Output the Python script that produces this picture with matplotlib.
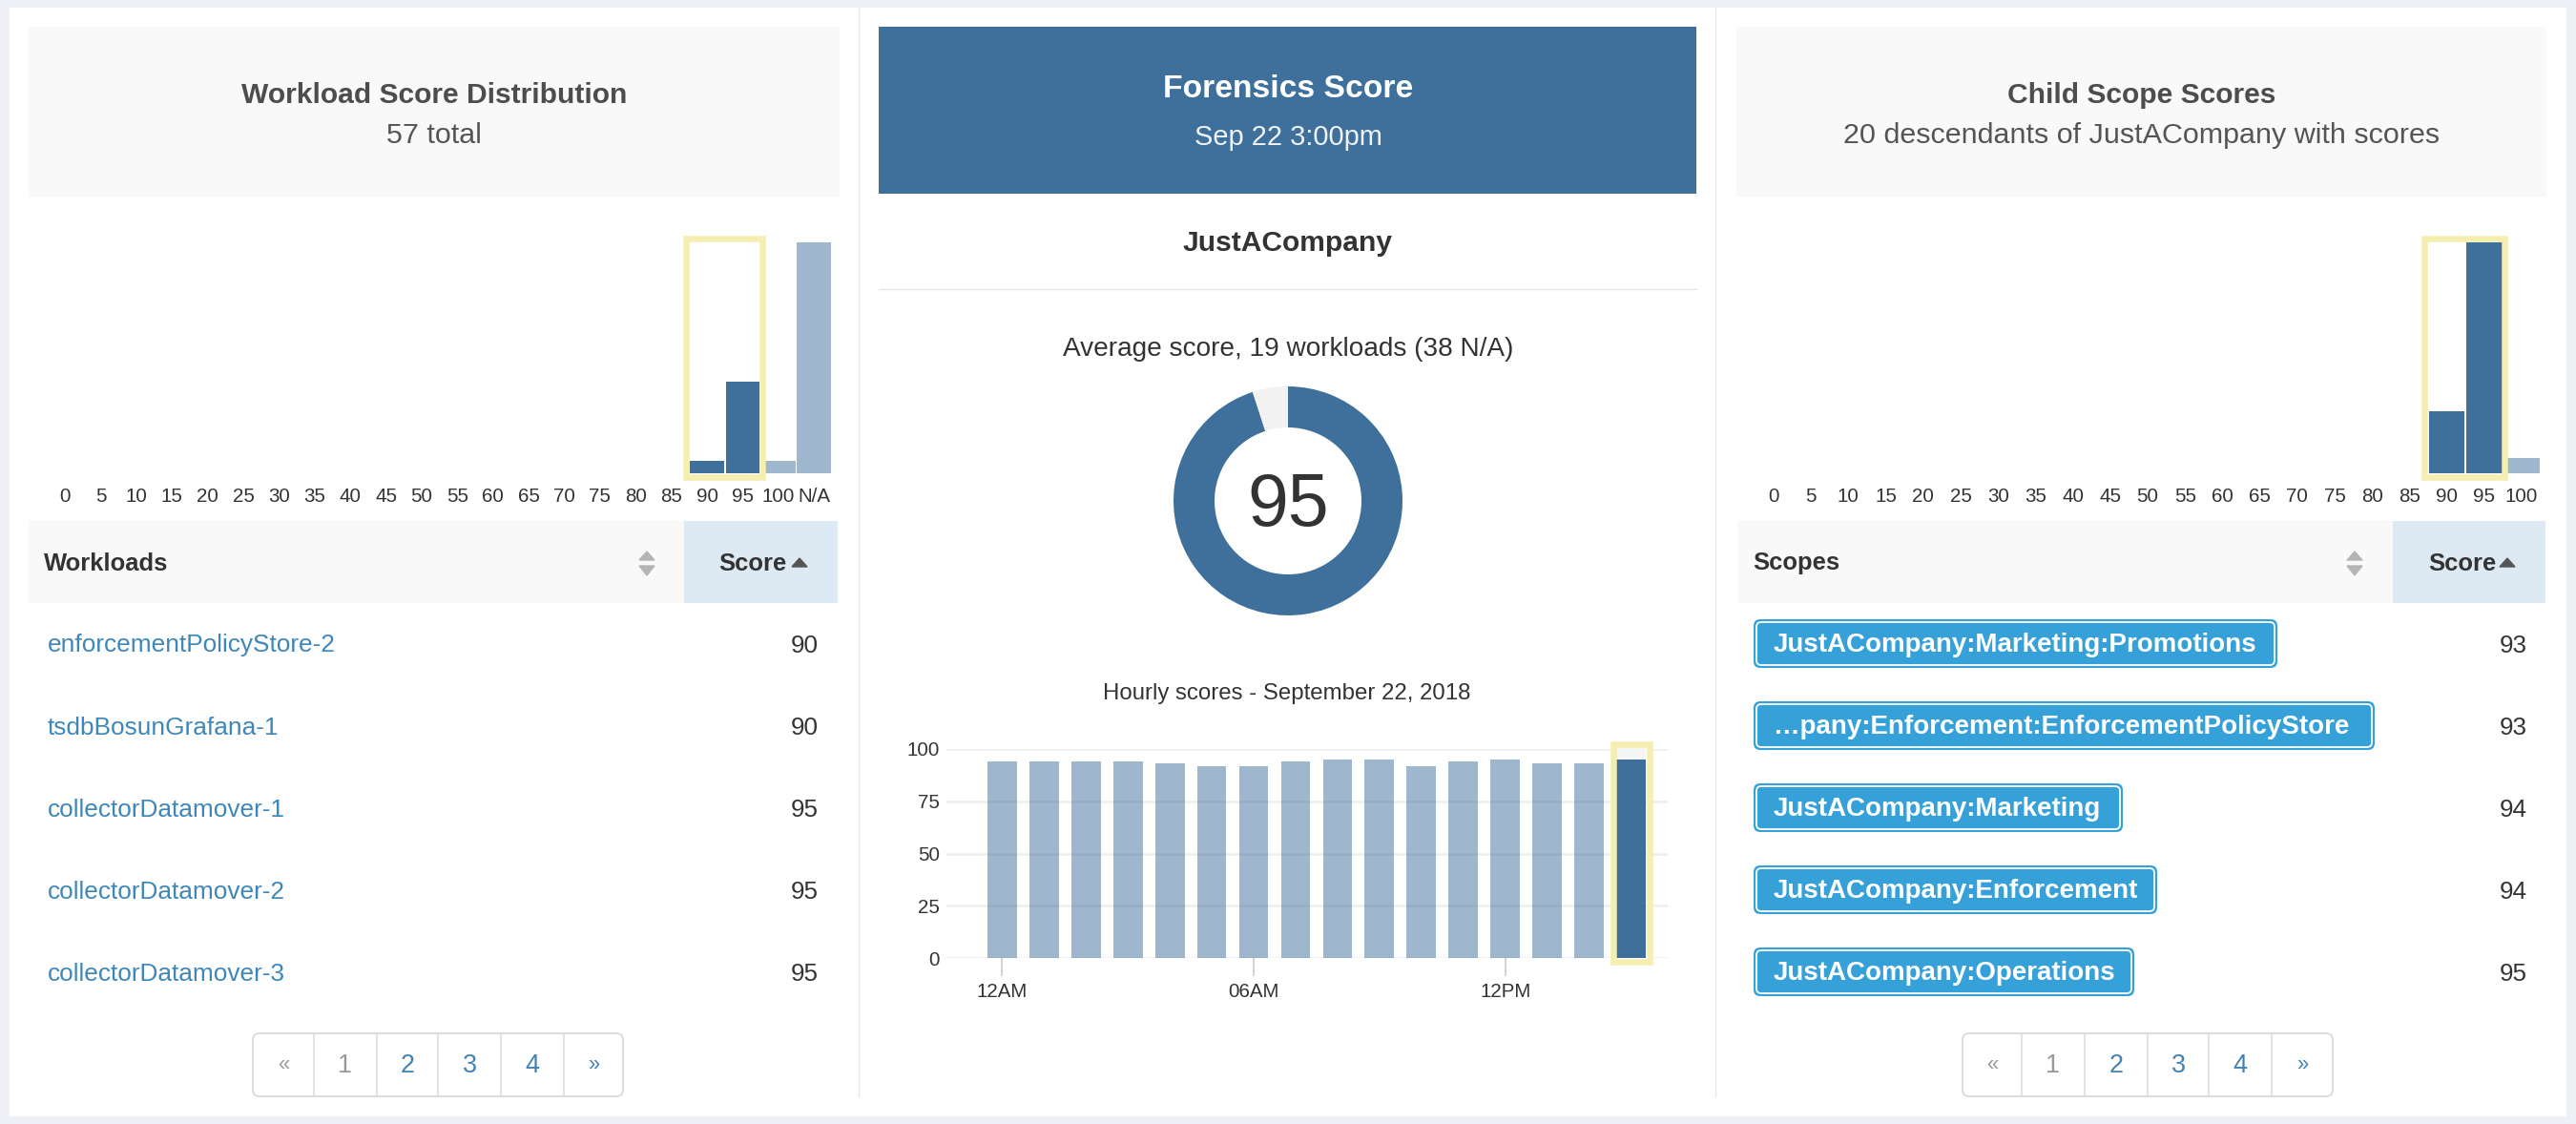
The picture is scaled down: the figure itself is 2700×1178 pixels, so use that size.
import matplotlib
matplotlib.use('Agg')
import matplotlib.pyplot as plt
from matplotlib.patches import Rectangle, FancyBboxPatch, Polygon

W, H = 2700, 1178

# data
workload_bins = ['0', '5', '10', '15', '20', '25', '30', '35', '40', '45', '50',
                 '55', '60', '65', '70', '75', '80', '85', '90', '95', '100', 'N/A']
workload_counts = [0, 0, 0, 0, 0, 0, 0, 0, 0, 0, 0, 0, 0, 0, 0, 0, 0, 0, 2, 15, 2, 38]
scope_bins = workload_bins[:-1]
scope_counts = [0, 0, 0, 0, 0, 0, 0, 0, 0, 0, 0, 0, 0, 0, 0, 0, 0, 0, 4, 15, 1]

workload_names = ['enforcementPolicyStore-2', 'tsdbBosunGrafana-1', 'collectorDatamover-1',
                  'collectorDatamover-2', 'collectorDatamover-3']
workload_scores = [90, 90, 95, 95, 95]
scope_names = ['JustACompany:Marketing:Promotions', '…pany:Enforcement:EnforcementPolicyStore',
               'JustACompany:Marketing', 'JustACompany:Enforcement', 'JustACompany:Operations']
scope_scores = [93, 93, 94, 94, 95]

average_score = 95
hourly_scores = [94, 94, 94, 94, 93, 92, 92, 94, 95, 95, 92, 94, 95, 93, 93, 95]
hourly_ticks = [0, 6, 12]
hourly_tick_labels = ['12AM', '06AM', '12PM']
hourly_yticks = [0, 25, 50, 75, 100]
page_labels = ['«', '1', '2', '3', '4', '»']

DARK = '#3e709b'
LIGHT = '#9fb8cd'
YELLOW = '#f4eeb1'
LINK = '#3f87b9'
TAG = '#36a0d9'

plt.rcParams['font.family'] = ['Liberation Sans', 'DejaVu Sans']


def fs(px):
    # font size given in image pixels
    return px * 0.72


def px_axes(left, top, right, bottom, **kw):
    return fig.add_axes([left / W, 1 - bottom / H, (right - left) / W, (bottom - top) / H], **kw)


def label(x, y, s, px, color='#333333', ha='center', weight='normal'):
    # va center sits a bit high for this font, hence the nudge
    bg.text(x, y + 2.5, s, fontsize=fs(px), color=color, ha=ha, va='center', fontweight=weight, zorder=6)


def box(x0, y0, x1, y1, color, zorder=1):
    bg.add_patch(Rectangle((x0, y0), x1 - x0, y1 - y0, facecolor=color, edgecolor='none', zorder=zorder))


def round_box(x0, y0, x1, y1, r, face, edge='none', lw=0, zorder=2):
    bg.add_patch(FancyBboxPatch((x0 + r, y0 + r), x1 - x0 - 2 * r, y1 - y0 - 2 * r,
                                boxstyle='round,pad=%f,rounding_size=%f' % (r, r),
                                facecolor=face, edgecolor=edge, linewidth=lw, zorder=zorder))


def histogram(left, right, bins, counts, top_count):
    ax = px_axes(left, 254, right, 496)
    ax.patch.set_alpha(0)
    xs = list(range(len(bins)))
    # only the 90 and 95 bins are highlighted
    colors = [DARK if b in ('90', '95') else LIGHT for b in bins]
    ax.bar(xs, counts, width=0.96, color=colors)
    ax.set_xlim(-0.5, len(bins) - 0.5)
    ax.set_ylim(0, top_count)
    ax.set_yticks([])
    ax.set_xticks(xs)
    ax.set_xticklabels(bins, fontsize=fs(20.5), color='#333333')
    ax.tick_params(axis='x', length=0, pad=11)
    for s in ax.spines.values():
        s.set_visible(False)
    return ax


def yellow_frame(x0, y0, x1, y1, t):
    bg2.add_patch(Rectangle((x0 + t / 2, y0 + t / 2), x1 - x0 - t, y1 - y0 - t, fill=False,
                            edgecolor=YELLOW, linewidth=t * 0.72))


def table_head(x0, xsplit, x1, name, icon_x, score_x, tri_x):
    box(x0, 546, xsplit, 632, '#f9f9f9')
    box(xsplit, 546, x1, 632, '#deeaf3')
    label(x0 + 16, 588, name, 25.6, '#333333', ha='left', weight='bold')
    label(score_x, 588, 'Score', 25.6, '#333333', weight='bold')
    bg.add_patch(Polygon([(tri_x - 8, 594), (tri_x + 8, 594), (tri_x, 585)], color='#555555', zorder=5))
    bg.add_patch(Polygon([(icon_x - 8, 587), (icon_x + 8, 587), (icon_x, 578)], color='#b5b5b5', zorder=5))
    bg.add_patch(Polygon([(icon_x - 8, 593), (icon_x + 8, 593), (icon_x, 603)], color='#b5b5b5', zorder=5))


def pager(x0, dividers, x1):
    round_box(x0, 1083, x1, 1149, 7, 'white', '#dddddd', 1.5)
    edges = [x0] + dividers + [x1]
    for i, s in enumerate(page_labels):
        color = '#999999' if i < 2 else '#4583b5'
        if i < 5:
            bg.plot([edges[i + 1]] * 2, [1084, 1148], color='#dddddd', lw=1.2, zorder=3)
        label((edges[i] + edges[i + 1]) / 2, 1114, s, 27 if s.isdigit() else 22, color)


fig = plt.figure(figsize=(W / 100, H / 100), dpi=100, facecolor='#eef0f5')
bg = px_axes(0, 0, W, H)
bg.set_xlim(0, W)
bg.set_ylim(H, 0)
bg.axis('off')

box(10, 8, 2690, 1170, 'white', 0)
bg.plot([900, 900], [8, 1149], color='#e8e8e8', lw=1.0)
bg.plot([1798, 1798], [8, 1149], color='#e8e8e8', lw=1.0)

# headers
box(30, 28, 880, 206, '#f9f9f9')
box(921, 28, 1778, 203, DARK)
box(1820, 28, 2669, 206, '#f9f9f9')
label(455, 98, 'Workload Score Distribution', 30, '#4d4d4d', weight='bold')
label(455, 139.5, '57 total', 30.5, '#555555')
label(1350, 91.5, 'Forensics Score', 33.6, 'white', weight='bold')
label(1350, 141, 'Sep 22 3:00pm', 29, '#eef3f7')
label(2245, 98, 'Child Scope Scores', 30, '#4d4d4d', weight='bold')
label(2245, 139.5, '20 descendants of JustACompany with scores', 30.5, '#555555')

# center column
label(1350, 252.5, 'JustACompany', 30, '#333333', weight='bold')
bg.plot([921, 1778], [303, 303], color='#e5e5e5', lw=1.0)
label(1350, 363.5, 'Average score, 19 workloads (38 N/A)', 28, '#333333')
label(1349, 724, 'Hourly scores - September 22, 2018', 24, '#333333')

# histograms
histogram(49.3, 872, workload_bins, workload_counts, 38)
histogram(1839.4, 2662.6, scope_bins, scope_counts, 15)

# donut
dax = px_axes(1350 - 120, 525 - 120, 1350 + 120, 525 + 120)
dax.pie([average_score, 100 - average_score], startangle=90, counterclock=False, radius=1,
        colors=[DARK, '#f2f2f2'], wedgeprops={'width': 43 / 120})
dax.set_xlim(-1, 1)
dax.set_ylim(-1, 1)
dax.text(0, -0.05, str(average_score), fontsize=fs(77), color='#333333', ha='center', va='center')

# hourly bars
hax = px_axes(992, 785, 1748, 1004.3)
hax.patch.set_alpha(0)
xs = list(range(len(hourly_scores)))
hax.bar(xs[:-1], hourly_scores[:-1], width=0.7, color=DARK, alpha=0.5, zorder=3)
hax.bar(xs[-1], 101.5, width=0.7, color='#f4f6f6', zorder=3, clip_on=False)
hax.bar(xs[-1], hourly_scores[-1], width=0.7, color=DARK, zorder=4)
hax.set_xlim(-1.329, 15.876)
hax.set_ylim(0, 100)
hax.set_yticks(hourly_yticks)
hax.set_yticklabels(hourly_yticks, fontsize=fs(20.5), color='#333333')
hax.set_xticks(hourly_ticks)
hax.set_xticklabels(hourly_tick_labels, fontsize=fs(20.5), color='#333333')
hax.tick_params(axis='y', length=0, pad=5)
hax.tick_params(axis='x', length=13.7, width=1.2, color='#cccccc', pad=5)
hax.grid(axis='y', color='#eeeeee', lw=1.8, zorder=1)
hax.set_axisbelow(True)
for s in hax.spines.values():
    s.set_visible(False)

# left table
table_head(30, 717, 878, 'Workloads', 678, 789, 838)
row_y = [675, 761, 847, 933, 1019]
for y, name, score in zip(row_y, workload_names, workload_scores):
    label(50, y - 1, name, 26.3, LINK, ha='left')
    label(858, y - 1, str(score), 26, '#333333', ha='right')
pager(265, [329, 395, 459, 525, 591], 653)

# right table
table_head(1821, 2508, 2668, 'Scopes', 2468, 2581, 2628)
tag_right = [2387, 2489, 2225, 2261, 2237]
for y, name, score, x1 in zip(row_y, scope_names, scope_scores, tag_right):
    y0, y1 = y - 26, y + 25
    round_box(1838, y0, x1, y1, 7, TAG)
    round_box(1841, y0 + 3, x1 - 3, y1 - 3, 5, TAG, 'white', 1.3, 3)
    label(1859, y - 1.5, name, 27.8, 'white', ha='left', weight='bold')
    label(2649, y - 1, str(score), 26, '#333333', ha='right')
pager(2057, [2119, 2185, 2251, 2315, 2381], 2445)

# yellow frames go on top of everything
bg2 = px_axes(0, 0, W, H)
bg2.set_xlim(0, W)
bg2.set_ylim(H, 0)
bg2.axis('off')
yellow_frame(716, 247, 802, 503, 6.5)
yellow_frame(2538, 247, 2628, 503, 6.5)
yellow_frame(1688, 777, 1732, 1011, 6.5)

fig.savefig('out.png', dpi=100, facecolor=fig.get_facecolor())
